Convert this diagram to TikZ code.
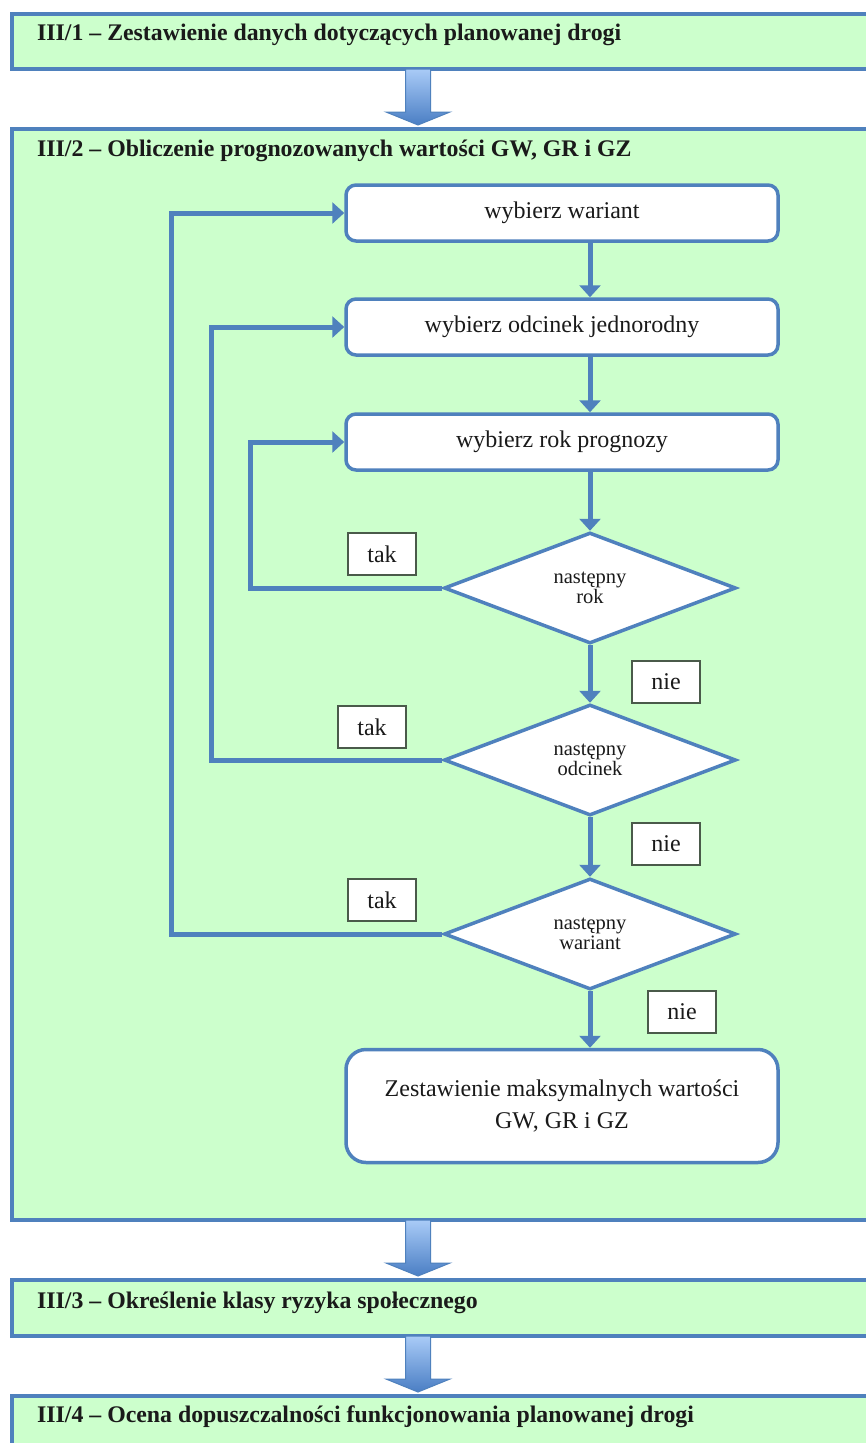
\documentclass[tikz,border=0pt]{standalone}
\usepackage{fontspec}
\setmainfont{Liberation Serif}
\usetikzlibrary{shapes.geometric,arrows.meta,calc}
\definecolor{bl}{HTML}{4F81BD}
\definecolor{gr}{HTML}{CCFFCC}
\definecolor{lbl}{HTML}{4A5A4A}
\definecolor{ink}{HTML}{1A1A1A}
\definecolor{arlight}{HTML}{A9CBF7}
\definecolor{ardark}{HTML}{4A7EC4}
\begin{document}
\begin{tikzpicture}[x=1pt,y=-1pt,
  panel/.style={draw=bl,line width=4pt,fill=gr,rectangle,anchor=north west,inner sep=0pt},
  title/.style={anchor=west,inner sep=0pt,text=ink,font=\fontsize{23.8}{28}\selectfont\bfseries},
  stepbox/.style={draw=bl,line width=3.5pt,fill=white,rounded corners=10pt,minimum width=432pt,minimum height=56pt,inner sep=0pt,text=ink,font=\fontsize{24}{28}\selectfont},
  dec/.style={draw=bl,line width=3.5pt,fill=white,diamond,minimum width=292pt,minimum height=111pt,inner sep=0pt,aspect=2.6,text=ink,align=center,font=\fontsize{20.5}{20}\selectfont},
  lab/.style={draw=lbl,line width=1.3pt,fill=white,minimum width=68pt,minimum height=42pt,inner sep=0pt,text=ink,font=\fontsize{24}{28}\selectfont},
  conn/.style={draw=bl,line width=5pt,-{Triangle[width=21pt,length=12pt]}},
  big/.style={top color=arlight,bottom color=ardark,draw=bl,line width=1pt}
]
\clip (0,0) rectangle (866,1443);
\useasboundingbox (0,0) rectangle (866,1443);
\fill[white] (0,0) rectangle (866,1443);
% panels
\node[panel,minimum width=900pt,minimum height=55pt] (p1) at (10,12) {};
\node[panel,minimum width=900pt,minimum height=1091pt] (p2) at (10,127) {};
\node[panel,minimum width=900pt,minimum height=56pt] (p3) at (10,1278) {};
\node[panel,minimum width=900pt,minimum height=80pt] (p4) at (10,1394) {};
\node[title] (t1) at (37,35) {III/1 – Zestawienie danych dotyczących planowanej drogi};
\node[title] (t2) at (37,151) {III/2 – Obliczenie prognozowanych wartości GW, GR i GZ};
\node[title] (t3) at (37,1303) {III/3 – Określenie klasy ryzyka społecznego};
\node[title] (t4) at (37,1417) {III/4 – Ocena dopuszczalności funkcjonowania planowanej drogi};
% block arrows
\foreach \ya/\yb in {69/125, 1220/1276, 1336/1392}{
  \shade[big] (405.5,\ya) -- (430.5,\ya) -- (430.5,\yb-13) -- (450,\yb-13) -- (418,\yb) -- (386,\yb-13) -- (405.5,\yb-13) -- cycle;
}
% steps
\node[stepbox] (s1) at (562,213) {wybierz wariant};
\node[stepbox] (s2) at (562,327) {wybierz odcinek jednorodny};
\node[stepbox] (s3) at (562,442) {wybierz rok prognozy};
\node[dec] (d1) at (590,588) {następny\\rok};
\node[dec] (d2) at (590,760) {następny\\odcinek};
\node[dec] (d3) at (590,934) {następny\\wariant};
\node[stepbox,minimum height=113pt,rounded corners=20pt,align=center,font=\fontsize{24}{32}\selectfont] (s4) at (562,1106) {Zestawienie maksymalnych wartości\\GW, GR i GZ};
% labels
\node[lab] (k1) at (382,554) {tak};
\node[lab] (k2) at (372,727) {tak};
\node[lab] (k3) at (382,900) {tak};
\node[lab] (n1) at (666,682) {nie};
\node[lab] (n2) at (666,844) {nie};
\node[lab] (n3) at (682,1012) {nie};
% connectors
\coordinate (c1) at (590,0);
\draw[conn] (s1.south -| c1) -- (s2.north -| c1);
\draw[conn] (s2.south -| c1) -- (s3.north -| c1);
\draw[conn] (s3.south -| c1) -- (d1.north);
\draw[conn] (d1.south) -- (d2.north);
\draw[conn] (d2.south) -- (d3.north);
\draw[conn] (d3.south) -- (s4.north -| c1);
\draw[conn] (d1.west) -- ++(-192,0) |- (s3.west);
\draw[conn] (d2.west) -- ++(-231,0) |- (s2.west);
\draw[conn] (d3.west) -- ++(-271,0) |- (s1.west);
\end{tikzpicture}
\end{document}
